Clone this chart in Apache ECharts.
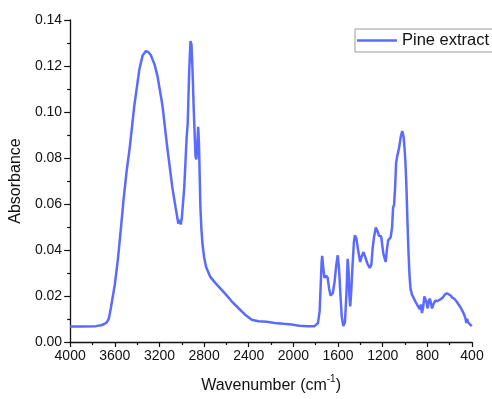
<!DOCTYPE html>
<html>
<head>
<meta charset="utf-8">
<script src="https://cdn.jsdelivr.net/npm/echarts@6/dist/echarts.min.js"></script>
<style>html,body{margin:0;padding:0;background:#fff;}#c{width:492px;height:399px;}</style>
</head>
<body>
<div id="c"></div>
<script>
const seriesName = 'Pine extract';
const xTicks = [4000, 3600, 3200, 2800, 2400, 2000, 1600, 1200, 800, 400];
const yTicks = [0.00, 0.02, 0.04, 0.06, 0.08, 0.10, 0.12, 0.14];
const wavenumber = [4000,3884,3769,3724,3698,3671,3653,3636,3618,3600,3573,3547,3520,3493,3467,3425,3380,3351,3322,3298,3277,3244,3218,3173,3129,3084,3055,3031,3018,3009,3000,2978,2957,2947,2933,2922,2913,2904,2892,2877,2869,2860,2853,2846,2840,2833,2824,2815,2800,2782,2744,2702,2655,2604,2551,2498,2433,2373,2314,2240,2166,2089,2018,1947,1876,1811,1780,1765,1756,1747,1742,1733,1722,1707,1693,1680,1667,1647,1631,1618,1603,1591,1578,1567,1553,1538,1524,1514,1505,1498,1491,1482,1471,1458,1449,1436,1422,1402,1387,1372,1356,1336,1316,1302,1289,1278,1262,1249,1233,1214,1194,1173,1162,1151,1129,1116,1107,1098,1089,1080,1070,1054,1038,1025,1013,1004,996,987,978,969,960,951,938,922,907,892,878,867,858,848,836,827,818,809,797,787,778,769,758,747,729,711,684,662,644,625,609,591,578,560,538,520,502,484,471,459,451,444,435,426,418,409,402];
const absorbance = [0.0067,0.0067,0.0069,0.0073,0.0077,0.0086,0.0103,0.0146,0.0198,0.0249,0.0356,0.0485,0.0627,0.0747,0.0842,0.1028,0.1185,0.1245,0.1265,0.1260,0.1247,0.1207,0.1157,0.1028,0.0842,0.0670,0.0584,0.0515,0.0532,0.0511,0.0537,0.0670,0.0885,0.0949,0.1185,0.1308,0.1293,0.1185,0.1001,0.0807,0.0794,0.0863,0.0936,0.0863,0.0734,0.0584,0.0490,0.0429,0.0369,0.0326,0.0283,0.0258,0.0233,0.0206,0.0176,0.0150,0.0119,0.0097,0.0090,0.0088,0.0083,0.0079,0.0076,0.0071,0.0069,0.0069,0.0082,0.0133,0.0240,0.0348,0.0374,0.0326,0.0279,0.0288,0.0279,0.0232,0.0202,0.0212,0.0262,0.0326,0.0377,0.0318,0.0198,0.0112,0.0069,0.0086,0.0219,0.0362,0.0305,0.0198,0.0155,0.0219,0.0326,0.0434,0.0464,0.0451,0.0404,0.0348,0.0374,0.0391,0.0369,0.0340,0.0322,0.0335,0.0412,0.0455,0.0498,0.0485,0.0462,0.0459,0.0383,0.0348,0.0404,0.0442,0.0455,0.0498,0.0584,0.0597,0.0670,0.0777,0.0807,0.0842,0.0893,0.0917,0.0893,0.0842,0.0777,0.0670,0.0520,0.0391,0.0292,0.0232,0.0206,0.0198,0.0176,0.0163,0.0159,0.0142,0.0163,0.0126,0.0155,0.0198,0.0206,0.0176,0.0146,0.0176,0.0189,0.0172,0.0146,0.0163,0.0180,0.0178,0.0185,0.0193,0.0206,0.0212,0.0206,0.0202,0.0193,0.0189,0.0176,0.0163,0.0150,0.0133,0.0120,0.0103,0.0082,0.0101,0.0086,0.0094,0.0077,0.0082,0.0069];

const data = wavenumber.map((w, i) => [w, absorbance[i]]);
const chart = echarts.init(document.getElementById('c'), null, {renderer: 'canvas'});
const font = 'Liberation Sans, Arial, sans-serif';
chart.setOption({
  animation: false,
  backgroundColor: '#ffffff',
  grid: {left: 67, right: 20, top: 20, bottom: 53, containLabel: false},
  legend: {
    show: true,
    left: 355, top: 29,
    padding: [3, 20, 3, 2],
    borderColor: '#9a9a9a', borderWidth: 1, borderRadius: 0,
    backgroundColor: '#ffffff',
    itemWidth: 40, itemHeight: 16,
    textStyle: {fontFamily: font, fontSize: 16.5, color: '#111'},
    data: [{name: seriesName, icon: 'path://M0,0 L40,0 L40,2.5 L0,2.5 Z'}]
  },
  xAxis: {
    type: 'value', inverse: true, min: xTicks[xTicks.length - 1], max: xTicks[0], interval: 400,
    name: '{a|Wavenumber (cm}{s|-1}{a|)}', nameLocation: 'middle', nameGap: 32,
    nameTextStyle: {rich: {a: {fontFamily: font, fontSize: 16, color: '#111', lineHeight: 20, verticalAlign: 'bottom'}, s: {fontFamily: font, fontSize: 10, color: '#111', lineHeight: 20, verticalAlign: 'top', padding: [0, 0, 6, 0]}}},
    axisLine: {show: true, onZero: false, lineStyle: {color: '#111', width: 1.3}},
    axisTick: {show: true, inside: false, length: 5, lineStyle: {color: '#111', width: 1.2}},
    minorTick: {show: true, splitNumber: 2, length: 3, lineStyle: {color: '#111', width: 1.2}},
    axisLabel: {fontFamily: font, fontSize: 14, color: '#111', margin: 7, formatter: v => String(Math.round(v))},
    splitLine: {show: false}
  },
  yAxis: {
    type: 'value', min: yTicks[0], max: yTicks[yTicks.length - 1], interval: 0.02,
    name: 'Absorbance', nameLocation: 'middle', nameGap: 40, nameRotate: 90,
    nameTextStyle: {fontFamily: font, fontSize: 16, color: '#111'},
    axisLine: {show: true, onZero: false, lineStyle: {color: '#111', width: 1.3}},
    axisTick: {show: true, inside: false, length: 6, lineStyle: {color: '#111', width: 1.2}},
    minorTick: {show: true, splitNumber: 2, length: 3, lineStyle: {color: '#111', width: 1.2}},
    axisLabel: {fontFamily: font, fontSize: 14, color: '#111', margin: 8, formatter: v => v.toFixed(2)},
    splitLine: {show: false}
  },
  series: [{
    name: seriesName, type: 'line', data: data, symbol: 'none', showSymbol: false,
    smooth: false,
    lineStyle: {color: '#5b6bff', width: 2.5},
    itemStyle: {color: '#5b6bff'}
  }]
});
</script>
</body>
</html>
